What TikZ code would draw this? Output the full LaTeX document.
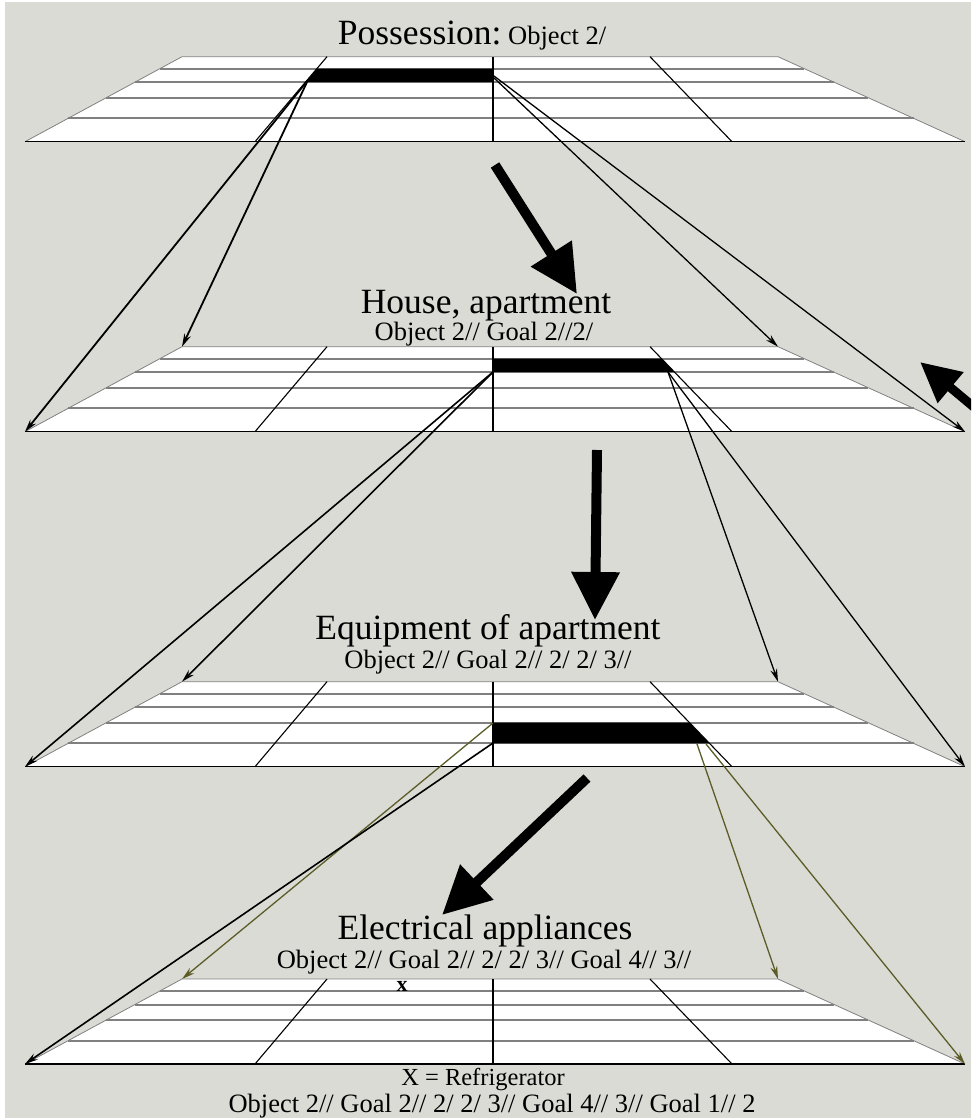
\documentclass[tikz,border=0pt]{standalone}
\usepackage{fontspec}
\setmainfont{Liberation Serif}
\usetikzlibrary{arrows.meta}
\definecolor{paper}{RGB}{219,219,214}
\definecolor{olivine}{RGB}{92,92,40}
\tikzset{
	hline/.style={draw=black!50,line width=2pt},
	rim/.style={draw=black!50,line width=0.8pt},
	divider/.style={draw=black,line width=1.1pt},
	bar/.style={fill=black},
	link/.style={line width=1.3pt,-{Stealth[length=13pt,width=7pt]}},
	olink/.style={link,draw=olivine},
	bigarrow/.style={line width=10pt,-{Triangle[length=48pt,width=46pt]}},
	head/.style={font=\fontsize{35.5}{40}\selectfont,inner sep=0pt,anchor=base},
	code/.style={font=\fontsize{26.5}{30}\selectfont,inner sep=0pt,anchor=base},
	plate/.pic={
		\fill[white] (-311,0) -- (285,0) -- (472,85) -- (-468,85) -- cycle;
		\foreach \d in {12,25.5,41,61.7}
			\draw[hline] ({-311-1.847*\d},\d) -- ({285+2.2*\d},\d);
		\draw[rim] (-468,85) -- (-311,0) -- (285,0) -- (472,85);
		\draw[divider] (-468,85) -- (472,85);
		\draw[divider] (-166,0) -- (-238,85);
		\draw[divider] (0,0) -- (0,85);
		\draw[divider] (157,0) -- (239,85);
		\coordinate (-tl) at (-311,0);
		\coordinate (-tr) at (285,0);
		\coordinate (-bl) at (-468,85);
		\coordinate (-br) at (472,85);
	}
}
\begin{document}
\begin{tikzpicture}[x=1pt,y=-1pt]
	\useasboundingbox (0,0) rectangle (971,1118);
	\clip (0,0) rectangle (971,1118);
	\fill[white] (0,0) rectangle (971,1118);
	\fill[paper] (5,2) rectangle (971,1118);
	% the four levels
	\pic (p1) at (493,56.7) {plate};
	\pic (p2) at (493,346.7) {plate};
	\pic (p3) at (493,681.7) {plate};
	\pic (p4) at (493,979) {plate};
	% chosen cells
	\fill[bar] (316.8,68.7) -- (493,68.7) -- (493,82.2) -- (305.4,82.2) -- cycle;
	\fill[bar] (493,358.7) -- (661.6,358.7) -- (674.6,372.2) -- (493,372.2) -- cycle;
	\fill[bar] (493,722.7) -- (689.6,722.7) -- (709.5,743.4) -- (493,743.4) -- cycle;
	\node[font=\bfseries\fontsize{22}{22}\selectfont,inner sep=0pt] (fx) at (402,986) {x};
	% labels
	\node[head] (poss) at (472,45) {Possession:{\fontsize{26.5}{30}\selectfont\ Object 2/}};
	\node[head] (house) at (486,313) {House, apartment};
	\node[code] (housecode) at (484,340) {Object 2// Goal 2//2/};
	\node[head] (equip) at (488,639) {Equipment of apartment};
	\node[code] (equipcode) at (488,668) {Object 2// Goal 2// 2/ 2/ 3//};
	\node[head] (elec) at (485,939) {Electrical appliances};
	\node[code] (eleccode) at (484,968) {Object 2// Goal 2// 2/ 2/ 3// Goal 4// 3//};
	\node[code,font=\fontsize{24.5}{28}\selectfont] (fridge) at (483,1085) {X = Refrigerator};
	\node[code] (fridgecode) at (492,1112) {Object 2// Goal 2// 2/ 2/ 3// Goal 4// 3// Goal 1// 2};
	% ends of the chosen cells
	\coordinate (b1w) at (308,80);
	\coordinate (b1e) at (486,70);
	\coordinate (b1f) at (493,77);
	\coordinate (b2w) at (493,372);
	\coordinate (b2e) at (668,372);
	\coordinate (b3n) at (493,723);
	\coordinate (b3w) at (493,743);
	\coordinate (b3e) at (697,744);
	\coordinate (b3f) at (706,744);
	\draw[link,line width=1.8pt] (b1w) -- (p2-bl);
	\draw[link,line width=1.8pt] (b1w) -- (p2-tl);
	\draw[link] (b1f) -- (p2-tr);
	\draw[link] (b1e) -- (p2-br);
	\draw[link,line width=1.6pt] (b2w) -- (p3-bl);
	\draw[link,line width=1.6pt] (b2w) -- (p3-tl);
	\draw[link] (b2e) -- (p3-tr);
	\draw[link] (b2e) -- (p3-br);
	\draw[olink] (b3n) -- (p4-tl);
	\draw[link,line width=1.6pt] (b3w) -- (p4-bl);
	\draw[olink] (b3e) -- (p4-tr);
	\draw[olink] (b3f) -- (p4-br);
	% big arrows
	\coordinate (a1s) at (495,165);
	\coordinate (a1e) at (577,294);
	\coordinate (a2s) at (597,450);
	\coordinate (a2e) at (595,620);
	\coordinate (a3s) at (587,778);
	\coordinate (a3e) at (442,915);
	\coordinate (a4s) at (1000,429);
	\coordinate (a4e) at (920,362);
	\draw[bigarrow] (a1s) -- (a1e);
	\draw[bigarrow] (a2s) -- (a2e);
	\draw[bigarrow] (a3s) -- (a3e);
	\draw[line width=9pt,-{Triangle[length=40pt,width=38pt]}] (a4s) -- (a4e);
\end{tikzpicture}
\end{document}
